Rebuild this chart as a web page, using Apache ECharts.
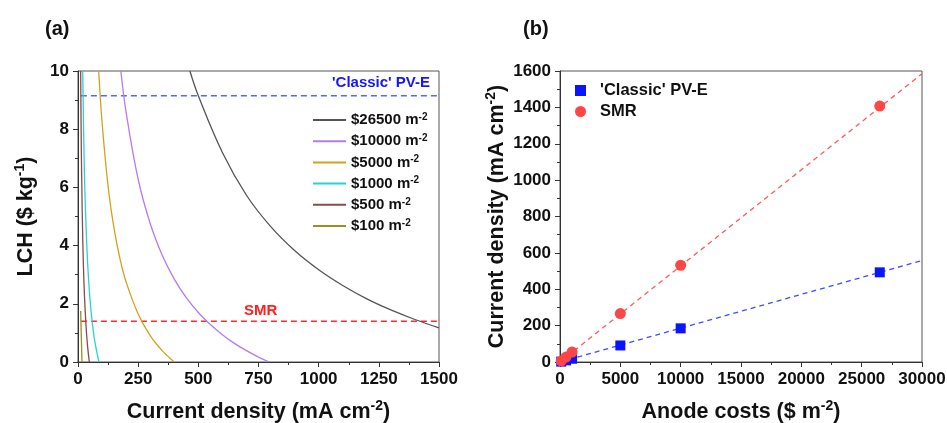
<!DOCTYPE html>
<html><head><meta charset="utf-8">
<script src="https://cdn.jsdelivr.net/npm/echarts@6/dist/echarts.min.js"></script>
<style>html,body{margin:0;padding:0;background:#fff}#c{width:947px;height:423px}</style>
</head><body><div id="c"></div>
<script>
// ---- Panel (a): LCH vs current density for anode costs ----
const costLabels = ['$26500', '$10000', '$5000', '$1000', '$500', '$100'];
const curve26500 = [[465,10],[500,9.15],[600,7.2],[700,5.73],[800,4.66],[900,3.83],[1000,3.17],[1100,2.63],[1200,2.17],[1300,1.79],[1400,1.46],[1500,1.17]];
const curve10000 = [[178,10],[200,8.58],[250,6.28],[300,4.76],[350,3.67],[400,2.85],[450,2.21],[500,1.70],[550,1.29],[600,0.94],[650,0.64],[700,0.39],[750,0.17],[795,0]];
const curve5000 = [[86,10],[100,8.24],[125,6.04],[150,4.58],[175,3.53],[200,2.75],[250,1.65],[300,0.91],[350,0.39],[400,0]];
const curve1000 = [[19.5,10],[25,7.17],[30,5.49],[40,3.40],[50,2.14],[60,1.30],[70,0.70],[87,0]];
const curve500 = [[11,10],[13,7.99],[15,6.51],[20,4.12],[25,2.68],[30,1.73],[35,1.04],[40,0.53],[47,0]];
const curve100 = [[11,1.75],[14,0.8],[16.5,0]];
const lchPV = 9.15;
const lchSMR = 1.4;
const levelRange = [12, 1500];
const xTicksA = [0, 1500, 250];
const yTicksA = [0, 10, 2];

// ---- Panel (b): current density vs anode costs ----
const anodeCosts = [100, 500, 1000, 5000, 10000, 26500];
const jPV = [2, 9, 18, 91, 185, 493];
const jSMR = [6, 27, 55, 266, 532, 1407];
const fitPV = [[0, 0], [30000, 558]];
const fitSMR = [[0, 0], [30000, 1585]];
const xTicksB = [0, 30000, 5000];
const yTicksB = [0, 1600, 200];

const curves = [curve26500, curve10000, curve5000, curve1000, curve500, curve100];
const curveColors = ['#555555', '#b57cec', '#d4a11e', '#26d3d6', '#8a4b4b', '#939321'];

const FF = 'Arial, "Liberation Sans", sans-serif';
const supRich = {
  t: { fontFamily: FF, fontWeight: 'bold', fontSize: 15, color: '#111', lineHeight: 16 },
  s: { fontFamily: FF, fontWeight: 'bold', fontSize: 10, color: '#111', lineHeight: 16, verticalAlign: 'top', padding: [0,0,6,0] },
  n: { fontFamily: FF, fontWeight: 'bold', fontSize: 21.5, color: '#111', lineHeight: 26 },
  ns: { fontFamily: FF, fontWeight: 'bold', fontSize: 14, color: '#111', lineHeight: 26, padding: [0,0,11,0] }
};

function axisCommon(ticks, minorSplit) {
  return {
    type: 'value', min: ticks[0], max: ticks[1], interval: ticks[2],
    axisLine: { show: true, lineStyle: { color: '#333', width: 1 } },
    axisTick: { show: true, length: 5, lineStyle: { color: '#333' } },
    minorTick: { show: true, splitNumber: minorSplit, length: 3, lineStyle: { color: '#333' } },
    splitLine: { show: false },
    axisLabel: { fontFamily: FF, fontWeight: 'bold', fontSize: 17, color: '#111', margin: 9, formatter: v => String(v) },
    nameLocation: 'middle',
    nameTextStyle: { rich: supRich }
  };
}

const series = [];
curves.forEach((c, i) => {
  series.push({
    name: costLabels[i], type: 'line', xAxisIndex: 0, yAxisIndex: 0,
    data: c, smooth: 0.4, symbol: 'none', showSymbol: false,
    lineStyle: { color: curveColors[i], width: 1.3 }, itemStyle: { color: curveColors[i] },
    z: 3
  });
});
series.push({
  name: 'PV-E level', type: 'line', xAxisIndex: 0, yAxisIndex: 0,
  data: levelRange.map(x => [x, lchPV]), symbol: 'none',
  lineStyle: { color: '#5566ff', width: 1.3, type: [6, 4] }, z: 2
});
series.push({
  name: 'SMR level', type: 'line', xAxisIndex: 0, yAxisIndex: 0,
  data: levelRange.map(x => [x, lchSMR]), symbol: 'none',
  lineStyle: { color: '#ff2a2a', width: 1.3, type: [6, 4] }, z: 2
});
series.push({
  name: 'PV-E fit', type: 'line', xAxisIndex: 1, yAxisIndex: 1,
  data: fitPV, symbol: 'none',
  lineStyle: { color: '#3d4dff', width: 1.3, type: [5, 4] }, z: 2
});
series.push({
  name: 'SMR fit', type: 'line', xAxisIndex: 1, yAxisIndex: 1,
  data: fitSMR, symbol: 'none',
  lineStyle: { color: '#ff5a5a', width: 1.3, type: [5, 4] }, z: 2
});
series.push({
  name: "'Classic' PV-E", type: 'scatter', xAxisIndex: 1, yAxisIndex: 1,
  data: anodeCosts.map((x, i) => [x, jPV[i]]), symbol: 'rect', symbolSize: 10,
  itemStyle: { color: '#0a14ff', opacity: 1 }, z: 4
});
series.push({
  name: 'SMR', type: 'scatter', xAxisIndex: 1, yAxisIndex: 1,
  data: anodeCosts.map((x, i) => [x, jSMR[i]]), symbol: 'circle', symbolSize: 11,
  itemStyle: { color: '#ff4646', opacity: 1 }, z: 4
});

const chart = echarts.init(document.getElementById('c'), null, { renderer: 'canvas' });
chart.setOption({
  animation: false,
  backgroundColor: '#fff',
  grid: [
    { left: 78, top: 71, width: 361, height: 291, show: true, borderColor: '#555', borderWidth: 1, backgroundColor: 'transparent', outerBoundsMode: 'none', containLabel: false },
    { left: 560, top: 71, width: 362, height: 291, show: true, borderColor: '#555', borderWidth: 1, backgroundColor: 'transparent', outerBoundsMode: 'none', containLabel: false }
  ],
  xAxis: [
    Object.assign(axisCommon(xTicksA, 2), { gridIndex: 0, name: '{n|Current density (mA cm}{ns|-2}{n|)}', nameGap: 37 }),
    Object.assign(axisCommon(xTicksB, 2), { gridIndex: 1, name: '{n|Anode costs ($ m}{ns|-2}{n|)}', nameGap: 37 })
  ],
  yAxis: [
    Object.assign(axisCommon(yTicksA, 2), { gridIndex: 0, name: '{n|LCH ($ kg}{ns|-1}{n|)}', nameGap: 39 }),
    Object.assign(axisCommon(yTicksB, 2), { gridIndex: 1, name: '{n|Current density (mA cm}{ns|-2}{n|)}', nameGap: 48 })
  ],
  legend: [
    {
      data: costLabels, orient: 'vertical', left: 313, top: 112, padding: 0,
      itemWidth: 33, itemHeight: 14, itemGap: 5.2, icon: 'path://M0,6 L33,6 L33,8 L0,8 Z',
      formatter: name => '{t|' + name + ' m}{s|-2}',
      textStyle: { rich: supRich }
    },
    {
      data: ["'Classic' PV-E", 'SMR'], orient: 'vertical', left: 575, top: 82, padding: 0,
      itemWidth: 11, itemHeight: 11, itemGap: 4,
      textStyle: { fontFamily: FF, fontWeight: 'bold', fontSize: 16.5, color: '#111', lineHeight: 14, padding: [0, 0, 0, 9] }
    }
  ],
  graphic: [
    { type: 'text', left: 45, top: 19, style: { text: '(a)', font: 'bold 20px ' + FF, fill: '#111' } },
    { type: 'text', left: 523, top: 19, style: { text: '(b)', font: 'bold 20px ' + FF, fill: '#111' } },
    { type: 'text', right: 947 - 430, top: 75, style: { text: "'Classic' PV-E", font: 'bold 15px ' + FF, fill: '#1414ff' } },
    { type: 'text', left: 244, top: 303, style: { text: 'SMR', font: 'bold 15px ' + FF, fill: '#ff2020' } }
  ],
  series: series
});
</script>
</body></html>
